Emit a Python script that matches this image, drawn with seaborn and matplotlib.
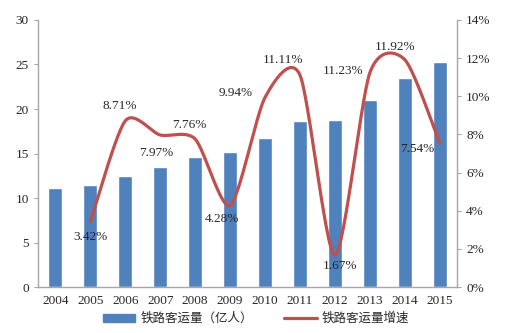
import numpy as np
import pandas as pd
import matplotlib
matplotlib.use("Agg")
import matplotlib.pyplot as plt
import seaborn as sns
from matplotlib.patches import Patch
from matplotlib.lines import Line2D

years = ["2004", "2005", "2006", "2007", "2008", "2009", "2010", "2011", "2012", "2013", "2014", "2015"]
volume = [11.1, 11.5, 12.5, 13.5, 14.6, 15.2, 16.7, 18.6, 18.8, 21.0, 23.5, 25.3]
growth_years = ["2005", "2006", "2007", "2008", "2009", "2010", "2011", "2012", "2013", "2014", "2015"]
growth = [3.42, 8.71, 7.97, 7.76, 4.28, 9.94, 11.11, 1.67, 11.23, 11.92, 7.54]
bar_label = "铁路客运量（亿人）"
line_label = "铁路客运量增速"

sns.set_style("white")
plt.rcParams["font.family"] = ["Liberation Serif", "Noto Sans CJK SC", "DejaVu Sans"]

BLUE = "#4F81BD"
RED = "#C0504D"
GRAY = "#A6A6A6"
TXT = "#262626"
FS = 9.5

fig = plt.figure(figsize=(5.12, 3.33), dpi=100)
ax = fig.add_axes([0.074, 0.138, 0.819, 0.802])

df = pd.DataFrame({"year": years, "volume": volume})
sns.barplot(data=df, x="year", y="volume", color=BLUE, width=0.4, ax=ax, saturation=1)
ax.set_xlim(-0.5, len(years) - 0.5)
ax.set_ylim(0, 30)
ax.set_yticks(range(0, 31, 5))
ax.set_xlabel("")
ax.set_ylabel("")

ax2 = ax.twinx()
ax2.set_ylim(0, 14)
ax2.set_yticks(range(0, 15, 2))
ax2.set_yticklabels([f"{v}%" for v in range(0, 15, 2)])


def smooth(xs, ys, k=0.13, n=30):
    xs = np.asarray(xs, float)
    ys = np.asarray(ys, float)
    px = np.concatenate([[xs[0]], xs, [xs[-1]]])
    py = np.concatenate([[ys[0]], ys, [ys[-1]]])
    t = np.linspace(0, 1, n)[:, None]
    out = []
    for i in range(1, len(px) - 2):
        p0 = np.array([px[i - 1], py[i - 1]])
        p1 = np.array([px[i], py[i]])
        p2 = np.array([px[i + 1], py[i + 1]])
        p3 = np.array([px[i + 2], py[i + 2]])
        c1 = p1 + k * (p2 - p0)
        c2 = p2 - k * (p3 - p1)
        seg = ((1 - t) ** 3) * p1 + 3 * ((1 - t) ** 2) * t * c1 + 3 * (1 - t) * t ** 2 * c2 + t ** 3 * p2
        out.append(seg)
    arr = np.vstack(out)
    return arr[:, 0], arr[:, 1]


gx = [years.index(y) for y in growth_years]
sx, sy = smooth(gx, growth)
sns.lineplot(x=sx, y=sy, ax=ax2, color=RED, linewidth=2.3, sort=False, estimator=None)

offsets = [(0, -11), (-4, 11), (-3, -13), (-4, 10), (-6, -10), (-21, 3), (-12, 11), (4, -8),
           (-19, 1), (-7, 9), (-16, -4)]
for x, v, off in zip(gx, growth, offsets):
    ax2.annotate(f"{v:.2f}%", (x, v), xytext=off, textcoords="offset points",
                 ha="center", va="center", fontsize=FS, color=TXT)

for a in (ax, ax2):
    a.spines["top"].set_visible(False)
    for s in ("left", "right", "bottom"):
        a.spines[s].set_color(GRAY)
        a.spines[s].set_linewidth(1)
    a.tick_params(labelcolor=TXT, labelsize=FS, length=3, width=0.8, color=GRAY)

ax.set_xticks(range(len(years)))
ax.set_xticklabels(years)
ax.tick_params(axis="x", length=0, pad=6)
ax.set_xticks(np.arange(-0.5, len(years), 1), minor=True)
ax.tick_params(axis="x", which="minor", length=4, color=GRAY, width=0.8)
ax2.spines["left"].set_visible(False)
ax.spines["right"].set_visible(False)
ax2.spines["bottom"].set_visible(False)

handles = [Patch(facecolor=BLUE, edgecolor=BLUE),
           Line2D([0], [0], color=RED, linewidth=2.3)]
fig.legend(handles, [bar_label, line_label], loc="lower center", bbox_to_anchor=(0.5, -0.01),
           ncol=2, frameon=False, handlelength=2.6, handleheight=0.6, columnspacing=2.5,
           handletextpad=0.4, labelcolor=TXT,
           prop={"family": ["Noto Sans CJK SC", "DejaVu Sans"], "size": 9})

fig.savefig("out.png", dpi=100)
